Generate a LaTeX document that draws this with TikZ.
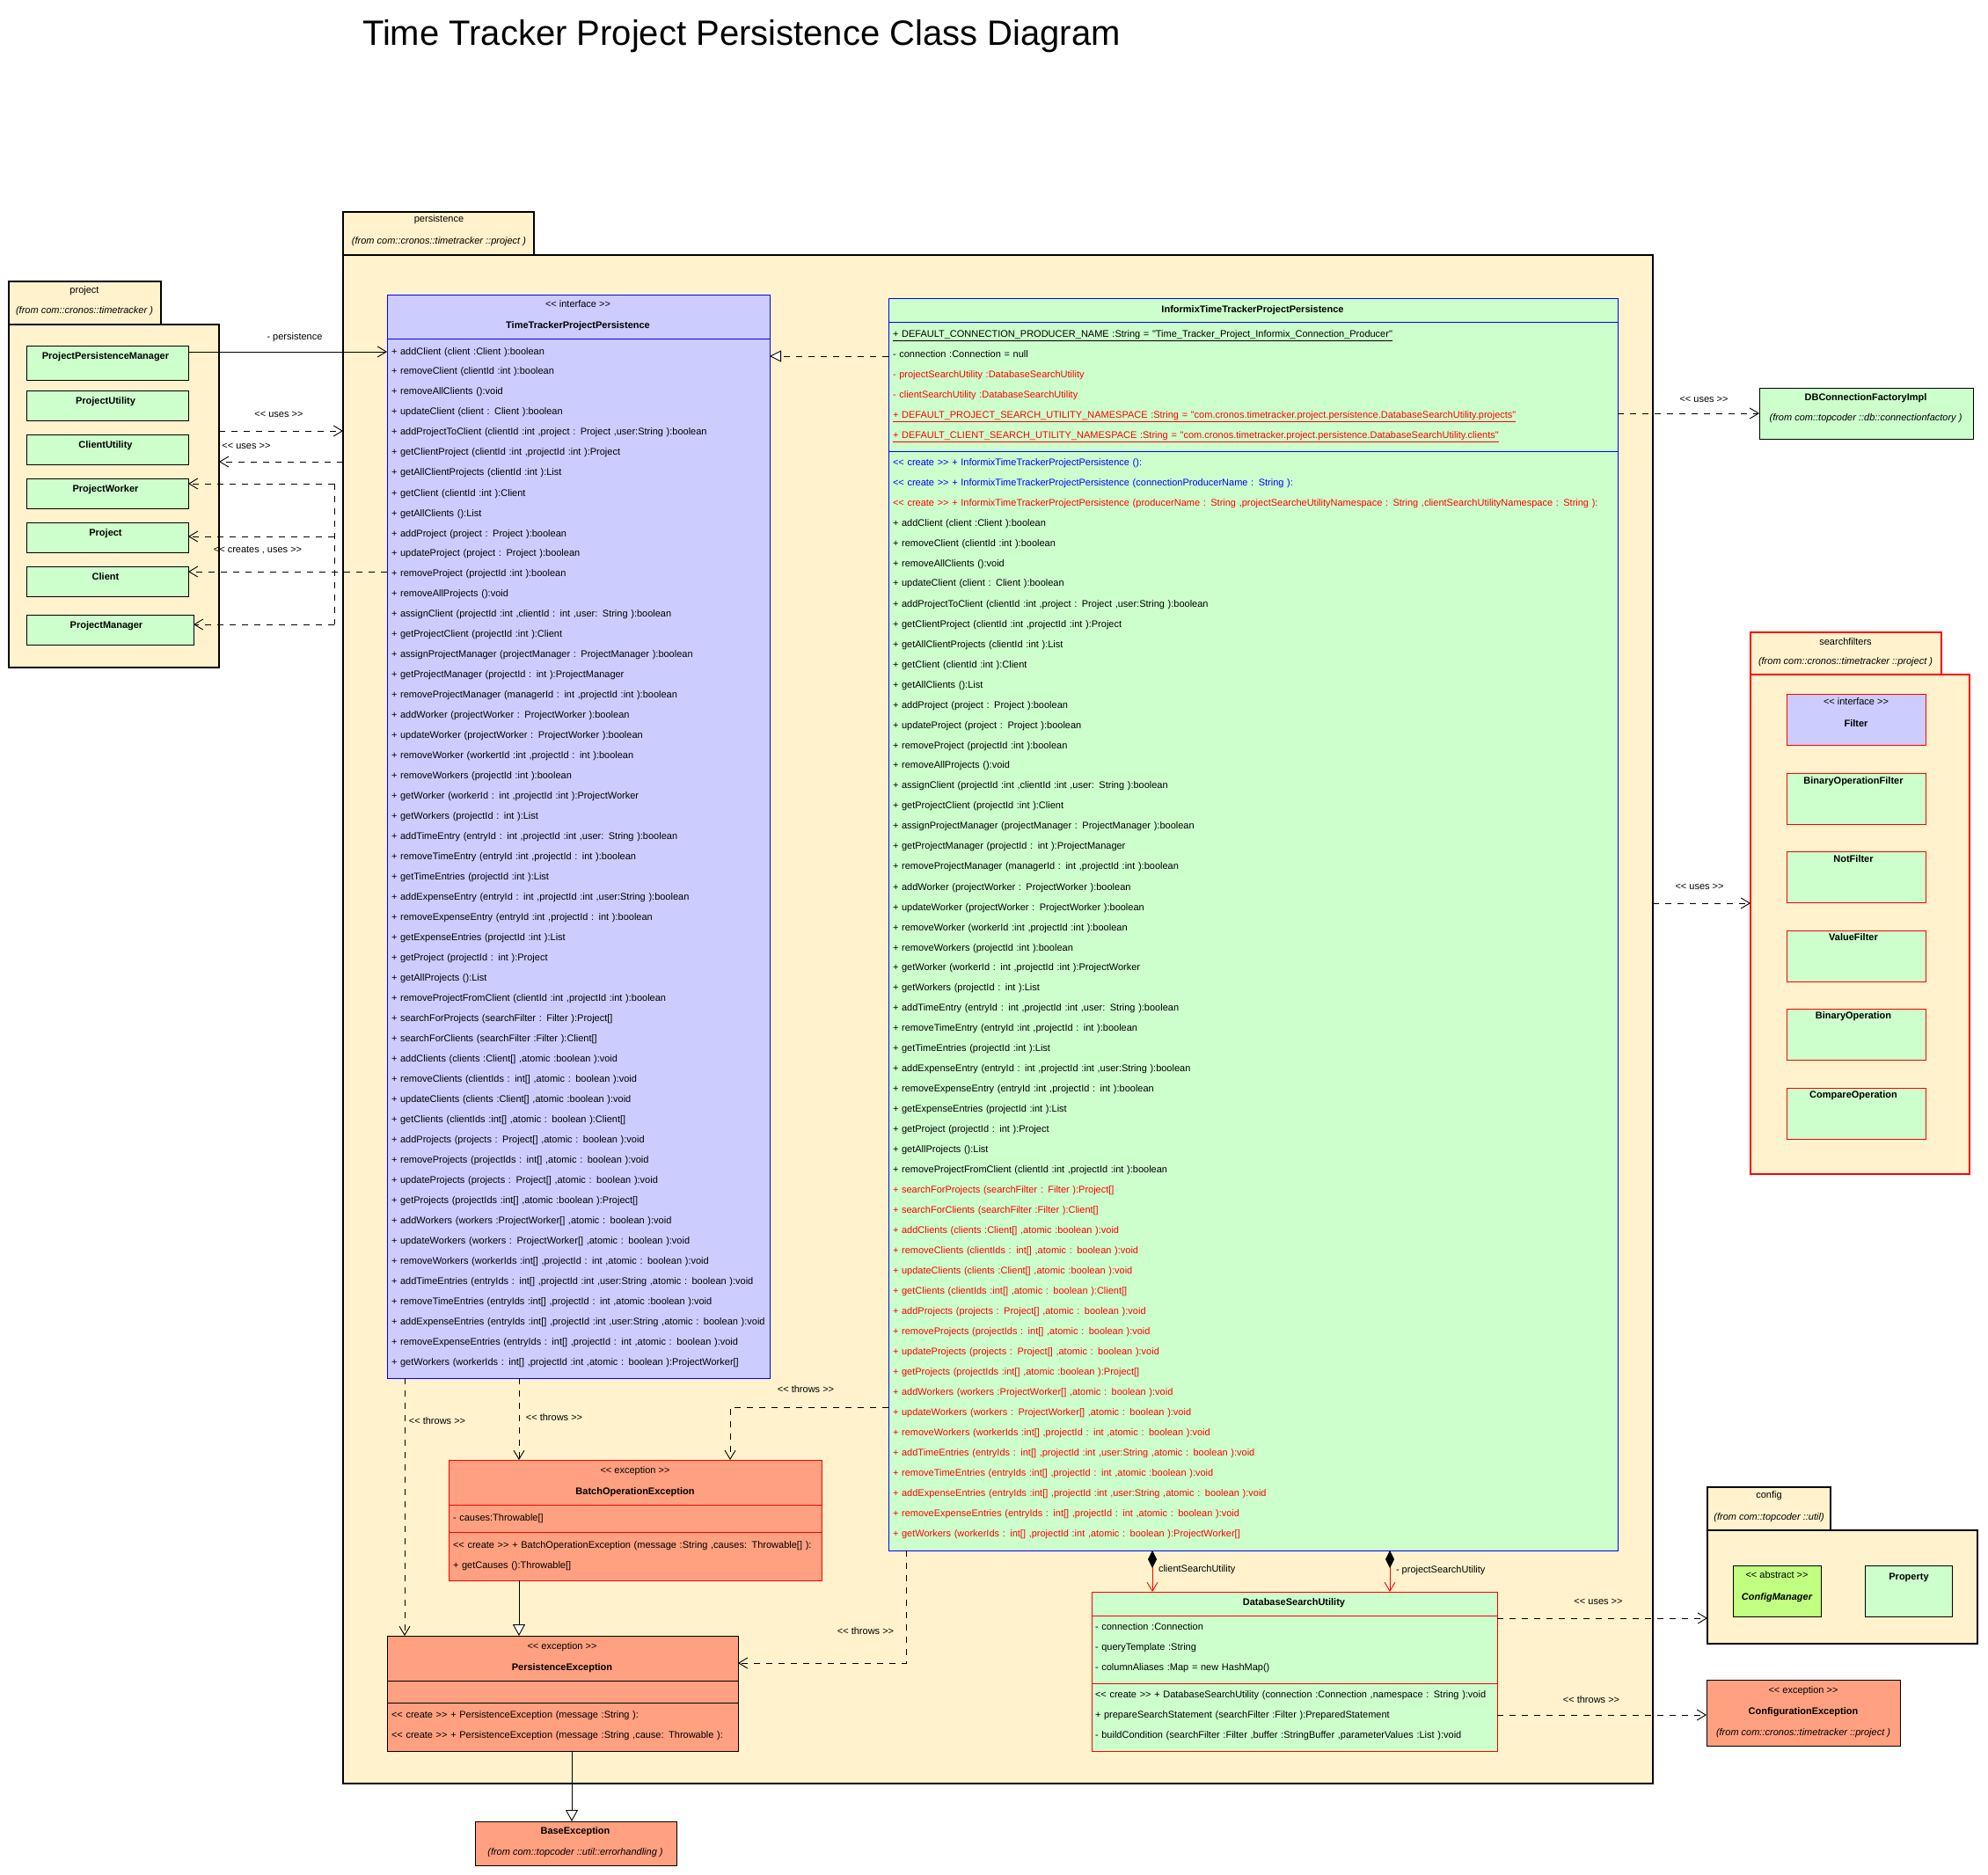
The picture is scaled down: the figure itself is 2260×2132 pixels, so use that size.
\documentclass[tikz,border=0pt]{standalone}
\usepackage{fontspec}
\newfontfamily\uf{Liberation Sans}
\usetikzlibrary{arrows.meta}
\definecolor{pkgfill}{RGB}{255,242,204}
\definecolor{clsgreen}{RGB}{204,255,204}
\definecolor{ifcblue}{RGB}{204,204,255}
\definecolor{excfill}{RGB}{255,160,128}
\definecolor{absfill}{RGB}{192,255,128}
\definecolor{umlred}{RGB}{255,0,0}
\definecolor{umlblue}{RGB}{0,0,255}
\tikzset{
  every node/.style={inner sep=0pt, outer sep=0pt, font=\uf\fontsize{11}{23}\selectfont},
  umlbox/.style={draw, line width=1pt, anchor=north west, rectangle},
  pkgbox/.style={umlbox, fill=pkgfill, line width=1.2pt},
  clsbox/.style={umlbox, fill=clsgreen},
  txt/.style={anchor=base},
  rowtxt/.style={anchor=base west, align=left, text width=#1},
  bname/.style={anchor=base, font=\uf\bfseries\fontsize{11}{23}\selectfont},
  fromtxt/.style={anchor=base, font=\uf\itshape\fontsize{11}{23}\selectfont},
  dashline/.style={line width=0.9pt, dash pattern=on 7pt off 7pt},
  depline/.style={dashline, -{Straight Barb[length=10pt,width=12pt]}},
  genline/.style={line width=0.9pt, -{Triangle[open,length=13pt,width=14pt,fill=white]}},
  realline/.style={dashline, -{Triangle[open,length=13pt,width=13pt,fill=white]}},
  assocline/.style={line width=0.9pt, -{Straight Barb[length=10pt,width=12pt]}},
  compline/.style={draw=umlred, line width=0.9pt, {Diamond[length=20pt,width=10pt,color=black,fill=black]}-{Straight Barb[length=10pt,width=12pt]}},
}
\begin{document}
\begin{tikzpicture}[x=1pt,y=-1pt]
\useasboundingbox (0,0) rectangle (2260,2132);
\fill[white] (0,0) rectangle (2260,2132);

\node[anchor=base, font=\uf\fontsize{40}{48}\selectfont] (title) at (843,52) {Time Tracker Project Persistence Class Diagram};

% ---------------- project package
\node[pkgbox, minimum width=173pt, minimum height=49pt] (projtab) at (10,320) {};
\node[pkgbox, minimum width=239pt, minimum height=390pt] (projbody) at (10,369) {};
\node[txt] (projtabname) at (96,334) {project};
\node[fromtxt] (projtabfrom) at (96,357) {(from com::cronos::timetracker )};

\node[clsbox, minimum width=184pt, minimum height=39pt] (ppm) at (30,394) {};
\node[clsbox, minimum width=184pt, minimum height=34pt] (pu) at (30,444) {};
\node[clsbox, minimum width=184pt, minimum height=34pt] (cu) at (30,494) {};
\node[clsbox, minimum width=184pt, minimum height=34pt] (pw) at (30,544) {};
\node[clsbox, minimum width=184pt, minimum height=34pt] (pr) at (30,594) {};
\node[clsbox, minimum width=184pt, minimum height=34pt] (cl) at (30,644) {};
\node[clsbox, minimum width=190pt, minimum height=34pt] (pm) at (30,699) {};
\node[bname] (ppmname) at (120,409) {ProjectPersistenceManager};
\node[bname] (puname) at (120,459) {ProjectUtility};
\node[bname] (cuname) at (120,509) {ClientUtility};
\node[bname] (pwname) at (120,559) {ProjectWorker};
\node[bname] (prname) at (120,609) {Project};
\node[bname] (clname) at (120,659) {Client};
\node[bname] (pmname) at (121,714) {ProjectManager};

% ---------------- persistence package
\node[pkgbox, minimum width=217pt, minimum height=49pt] (perstab) at (390,241) {};
\node[pkgbox, minimum width=1489pt, minimum height=1738pt] (persbody) at (390,290) {};
\node[txt] (perstabname) at (499,253) {persistence};
\node[fromtxt] (perstabfrom) at (499,278) {(from com::cronos::timetracker ::project )};

% interface
\node[umlbox, draw=umlblue, fill=ifcblue, minimum width=435pt, minimum height=1231pt] (ifc) at (440,336) {};
\draw[umlblue, line width=1pt] ([yshift=-50pt]ifc.north west) -- ([yshift=-50pt]ifc.north east);
\node[txt] (ifcst) at (657,350) {<< interface >>};
\node[bname] (ifcname) at (657,374) {TimeTrackerProjectPersistence};
\node[rowtxt=445pt] (ifcops) at (445,403) {%
+ addClient (client :Client ):boolean\\
+ removeClient (clientId :int ):boolean\\
+ removeAllClients ():void\\
+ updateClient (client : Client ):boolean\\
+ addProjectToClient (clientId :int ,project : Project ,user:String ):boolean\\
+ getClientProject (clientId :int ,projectId :int ):Project\\
+ getAllClientProjects (clientId :int ):List\\
+ getClient (clientId :int ):Client\\
+ getAllClients ():List\\
+ addProject (project : Project ):boolean\\
+ updateProject (project : Project ):boolean\\
+ removeProject (projectId :int ):boolean\\
+ removeAllProjects ():void\\
+ assignClient (projectId :int ,clientId : int ,user: String ):boolean\\
+ getProjectClient (projectId :int ):Client\\
+ assignProjectManager (projectManager : ProjectManager ):boolean\\
+ getProjectManager (projectId : int ):ProjectManager\\
+ removeProjectManager (managerId : int ,projectId :int ):boolean\\
+ addWorker (projectWorker : ProjectWorker ):boolean\\
+ updateWorker (projectWorker : ProjectWorker ):boolean\\
+ removeWorker (workertId :int ,projectId : int ):boolean\\
+ removeWorkers (projectId :int ):boolean\\
+ getWorker (workerId : int ,projectId :int ):ProjectWorker\\
+ getWorkers (projectId : int ):List\\
+ addTimeEntry (entryId : int ,projectId :int ,user: String ):boolean\\
+ removeTimeEntry (entryId :int ,projectId : int ):boolean\\
+ getTimeEntries (projectId :int ):List\\
+ addExpenseEntry (entryId : int ,projectId :int ,user:String ):boolean\\
+ removeExpenseEntry (entryId :int ,projectId : int ):boolean\\
+ getExpenseEntries (projectId :int ):List\\
+ getProject (projectId : int ):Project\\
+ getAllProjects ():List\\
+ removeProjectFromClient (clientId :int ,projectId :int ):boolean\\
+ searchForProjects (searchFilter : Filter ):Project[]\\
+ searchForClients (searchFilter :Filter ):Client[]\\
+ addClients (clients :Client[] ,atomic :boolean ):void\\
+ removeClients (clientIds : int[] ,atomic : boolean ):void\\
+ updateClients (clients :Client[] ,atomic :boolean ):void\\
+ getClients (clientIds :int[] ,atomic : boolean ):Client[]\\
+ addProjects (projects : Project[] ,atomic : boolean ):void\\
+ removeProjects (projectIds : int[] ,atomic : boolean ):void\\
+ updateProjects (projects : Project[] ,atomic : boolean ):void\\
+ getProjects (projectIds :int[] ,atomic :boolean ):Project[]\\
+ addWorkers (workers :ProjectWorker[] ,atomic : boolean ):void\\
+ updateWorkers (workers : ProjectWorker[] ,atomic : boolean ):void\\
+ removeWorkers (workerIds :int[] ,projectId : int ,atomic : boolean ):void\\
+ addTimeEntries (entryIds : int[] ,projectId :int ,user:String ,atomic : boolean ):void\\
+ removeTimeEntries (entryIds :int[] ,projectId : int ,atomic :boolean ):void\\
+ addExpenseEntries (entryIds :int[] ,projectId :int ,user:String ,atomic : boolean ):void\\
+ removeExpenseEntries (entryIds : int[] ,projectId : int ,atomic : boolean ):void\\
+ getWorkers (workerIds : int[] ,projectId :int ,atomic : boolean ):ProjectWorker[]};

% Informix class
\node[umlbox, draw=umlblue, fill=clsgreen, minimum width=829pt, minimum height=1423pt] (informix) at (1010,340) {};
\draw[umlblue, line width=1pt] ([yshift=-27pt]informix.north west) -- ([yshift=-27pt]informix.north east);
\draw[umlblue, line width=1pt] ([yshift=-173pt]informix.north west) -- ([yshift=-173pt]informix.north east);
\node[bname] (infname) at (1424,356) {InformixTimeTrackerProjectPersistence};
\node[rowtxt=850pt] (infattr) at (1015,384) {%
\underline{+ DEFAULT\_CONNECTION\_PRODUCER\_NAME :String = "Time\_Tracker\_Project\_Informix\_Connection\_Producer"}\\
- connection :Connection = null\\
\textcolor{umlred}{- projectSearchUtility :DatabaseSearchUtility}\\
\textcolor{umlred}{- clientSearchUtility :DatabaseSearchUtility}\\
\textcolor{umlred}{\underline{+ DEFAULT\_PROJECT\_SEARCH\_UTILITY\_NAMESPACE :String = "com.cronos.timetracker.project.persistence.DatabaseSearchUtility.projects"}}\\
\textcolor{umlred}{\underline{+ DEFAULT\_CLIENT\_SEARCH\_UTILITY\_NAMESPACE :String = "com.cronos.timetracker.project.persistence.DatabaseSearchUtility.clients"}}};
\node[rowtxt=850pt] (infops) at (1015,529) {%
\textcolor{umlblue}{<< create >> + InformixTimeTrackerProjectPersistence ():}\\
\textcolor{umlblue}{<< create >> + InformixTimeTrackerProjectPersistence (connectionProducerName : String ):}\\
\textcolor{umlred}{<< create >> + InformixTimeTrackerProjectPersistence (producerName : String ,projectSearcheUtilityNamespace : String ,clientSearchUtilityNamespace : String ):}\\
+ addClient (client :Client ):boolean\\
+ removeClient (clientId :int ):boolean\\
+ removeAllClients ():void\\
+ updateClient (client : Client ):boolean\\
+ addProjectToClient (clientId :int ,project : Project ,user:String ):boolean\\
+ getClientProject (clientId :int ,projectId :int ):Project\\
+ getAllClientProjects (clientId :int ):List\\
+ getClient (clientId :int ):Client\\
+ getAllClients ():List\\
+ addProject (project : Project ):boolean\\
+ updateProject (project : Project ):boolean\\
+ removeProject (projectId :int ):boolean\\
+ removeAllProjects ():void\\
+ assignClient (projectId :int ,clientId :int ,user: String ):boolean\\
+ getProjectClient (projectId :int ):Client\\
+ assignProjectManager (projectManager : ProjectManager ):boolean\\
+ getProjectManager (projectId : int ):ProjectManager\\
+ removeProjectManager (managerId : int ,projectId :int ):boolean\\
+ addWorker (projectWorker : ProjectWorker ):boolean\\
+ updateWorker (projectWorker : ProjectWorker ):boolean\\
+ removeWorker (workerId :int ,projectId :int ):boolean\\
+ removeWorkers (projectId :int ):boolean\\
+ getWorker (workerId : int ,projectId :int ):ProjectWorker\\
+ getWorkers (projectId : int ):List\\
+ addTimeEntry (entryId : int ,projectId :int ,user: String ):boolean\\
+ removeTimeEntry (entryId :int ,projectId : int ):boolean\\
+ getTimeEntries (projectId :int ):List\\
+ addExpenseEntry (entryId : int ,projectId :int ,user:String ):boolean\\
+ removeExpenseEntry (entryId :int ,projectId : int ):boolean\\
+ getExpenseEntries (projectId :int ):List\\
+ getProject (projectId : int ):Project\\
+ getAllProjects ():List\\
+ removeProjectFromClient (clientId :int ,projectId :int ):boolean\\
\color{umlred}%
+ searchForProjects (searchFilter : Filter ):Project[]\\
+ searchForClients (searchFilter :Filter ):Client[]\\
+ addClients (clients :Client[] ,atomic :boolean ):void\\
+ removeClients (clientIds : int[] ,atomic : boolean ):void\\
+ updateClients (clients :Client[] ,atomic :boolean ):void\\
+ getClients (clientIds :int[] ,atomic : boolean ):Client[]\\
+ addProjects (projects : Project[] ,atomic : boolean ):void\\
+ removeProjects (projectIds : int[] ,atomic : boolean ):void\\
+ updateProjects (projects : Project[] ,atomic : boolean ):void\\
+ getProjects (projectIds :int[] ,atomic :boolean ):Project[]\\
+ addWorkers (workers :ProjectWorker[] ,atomic : boolean ):void\\
+ updateWorkers (workers : ProjectWorker[] ,atomic : boolean ):void\\
+ removeWorkers (workerIds :int[] ,projectId : int ,atomic : boolean ):void\\
+ addTimeEntries (entryIds : int[] ,projectId :int ,user:String ,atomic : boolean ):void\\
+ removeTimeEntries (entryIds :int[] ,projectId : int ,atomic :boolean ):void\\
+ addExpenseEntries (entryIds :int[] ,projectId :int ,user:String ,atomic : boolean ):void\\
+ removeExpenseEntries (entryIds : int[] ,projectId : int ,atomic : boolean ):void\\
+ getWorkers (workerIds : int[] ,projectId :int ,atomic : boolean ):ProjectWorker[]};

% BatchOperationException
\node[umlbox, draw=umlred, fill=excfill, minimum width=424pt, minimum height=137pt] (boe) at (510,1660) {};
\draw[umlred, line width=1pt] ([yshift=-51pt]boe.north west) -- ([yshift=-51pt]boe.north east);
\draw[umlred, line width=1pt] ([yshift=-82pt]boe.north west) -- ([yshift=-82pt]boe.north east);
\node[txt] (boest) at (722,1675) {<< exception >>};
\node[bname] (boename) at (722,1699) {BatchOperationException};
\node[rowtxt=440pt] (boeattr) at (515,1729) {- causes:Throwable[]};
\node[rowtxt=440pt] (boeops) at (515,1760) {<< create >> + BatchOperationException (message :String ,causes: Throwable[] ):\\
+ getCauses ():Throwable[]};

% PersistenceException
\node[umlbox, fill=excfill, minimum width=399pt, minimum height=131pt] (pe) at (440,1860) {};
\draw[line width=1pt] ([yshift=-51pt]pe.north west) -- ([yshift=-51pt]pe.north east);
\draw[line width=1pt] ([yshift=-76pt]pe.north west) -- ([yshift=-76pt]pe.north east);
\node[txt] (pest) at (639,1875) {<< exception >>};
\node[bname] (pename) at (639,1899) {PersistenceException};
\node[rowtxt=420pt] (peops) at (445,1953) {<< create >> + PersistenceException (message :String ):\\
<< create >> + PersistenceException (message :String ,cause: Throwable ):};

% BaseException
\node[umlbox, fill=excfill, minimum width=229pt, minimum height=50pt] (base) at (540,2071) {};
\node[bname] (basename) at (654,2085) {BaseException};
\node[fromtxt] (basefrom) at (654,2109) {(from com::topcoder ::util::errorhandling )};

% DatabaseSearchUtility
\node[umlbox, draw=umlred, fill=clsgreen, minimum width=461pt, minimum height=181pt] (dsu) at (1241,1810) {};
\draw[umlred, line width=1pt] ([yshift=-27pt]dsu.north west) -- ([yshift=-27pt]dsu.north east);
\draw[umlred, line width=1pt] ([yshift=-104pt]dsu.north west) -- ([yshift=-104pt]dsu.north east);
\node[bname] (dsuname) at (1471,1825) {DatabaseSearchUtility};
\node[rowtxt=480pt] (dsuattr) at (1245,1853) {- connection :Connection\\
- queryTemplate :String\\
- columnAliases :Map = new HashMap()};
\node[rowtxt=480pt] (dsuops) at (1245,1930) {<< create >> + DatabaseSearchUtility (connection :Connection ,namespace : String ):void\\
+ prepareSearchStatement (searchFilter :Filter ):PreparedStatement\\
- buildCondition (searchFilter :Filter ,buffer :StringBuffer ,parameterValues :List ):void};

% ---------------- right side
\node[clsbox, minimum width=243pt, minimum height=58pt] (dbc) at (2000,441) {};
\node[bname] (dbcname) at (2121,455) {DBConnectionFactoryImpl};
\node[fromtxt] (dbcfrom) at (2121,478) {(from com::topcoder ::db::connectionfactory )};

\node[pkgbox, draw=umlred, minimum width=217pt, minimum height=48pt] (sftab) at (1990,719) {};
\node[pkgbox, draw=umlred, minimum width=249pt, minimum height=568pt] (sfbody) at (1990,767) {};
\node[txt] (sftabname) at (2098,733) {searchfilters};
\node[fromtxt] (sftabfrom) at (2098,755) {(from com::cronos::timetracker ::project )};
\node[umlbox, draw=umlred, fill=ifcblue, minimum width=158pt, minimum height=58pt] (filter) at (2031,789) {};
\node[txt] (filterst) at (2110,801) {<< interface >>};
\node[bname] (filtername) at (2110,826) {Filter};
\node[clsbox, draw=umlred, minimum width=158pt, minimum height=58pt] (bof) at (2031,879) {};
\node[clsbox, draw=umlred, minimum width=158pt, minimum height=58pt] (nf) at (2031,968) {};
\node[clsbox, draw=umlred, minimum width=158pt, minimum height=58pt] (vf) at (2031,1058) {};
\node[clsbox, draw=umlred, minimum width=158pt, minimum height=58pt] (bo) at (2031,1147) {};
\node[clsbox, draw=umlred, minimum width=158pt, minimum height=58pt] (co) at (2031,1237) {};
\node[bname] (bofname) at (2107,891) {BinaryOperationFilter};
\node[bname] (nfname) at (2107,980) {NotFilter};
\node[bname] (vfname) at (2107,1069) {ValueFilter};
\node[bname] (boname) at (2107,1158) {BinaryOperation};
\node[bname] (coname) at (2107,1248) {CompareOperation};

\node[pkgbox, minimum width=140pt, minimum height=49pt] (cfgtab) at (1941,1691) {};
\node[pkgbox, minimum width=307pt, minimum height=129pt] (cfgbody) at (1941,1740) {};
\node[txt] (cfgtabname) at (2011,1703) {config};
\node[fromtxt] (cfgtabfrom) at (2011,1728) {(from com::topcoder ::util)};
\node[umlbox, fill=absfill, minimum width=100pt, minimum height=58pt] (cm) at (1970,1780) {};
\node[txt] (cmst) at (2020,1794) {<< abstract >>};
\node[anchor=base, font=\uf\bfseries\itshape\fontsize{11}{23}\selectfont] (cmname) at (2020,1819) {ConfigManager};
\node[clsbox, minimum width=99pt, minimum height=58pt] (prop) at (2120,1780) {};
\node[bname] (propname) at (2170,1796) {Property};

\node[umlbox, fill=excfill, minimum width=220pt, minimum height=75pt] (cfgexc) at (1940,1910) {};
\node[txt] (cfgexcst) at (2050,1925) {<< exception >>};
\node[bname] (cfgexcname) at (2050,1949) {ConfigurationException};
\node[fromtxt] (cfgexcfrom) at (2050,1973) {(from com::cronos::timetracker ::project )};

% ---------------- connectors
% persistence association
\coordinate (a1) at ([yshift=-6pt]ppm.north east);
\draw[assocline] (a1) -- (a1 -| ifc.west);
\node[txt] (a1lab) at (335,387) {- persistence};

% uses between packages
\coordinate (u1) at ([yshift=-121pt]projbody.north east);
\draw[depline] (u1) -- (u1 -| persbody.west);
\node[txt] (u1lab) at (317,474) {<< uses >>};
\coordinate (u2) at ([yshift=-235pt]persbody.north west);
\draw[depline] (u2) -- (u2 -| projbody.east);
\node[txt] (u2lab) at (280,510) {<< uses >>};

% creates, uses
\coordinate (pwA) at ([yshift=-6pt]pw.north east);
\coordinate (prA) at ([yshift=-16pt]pr.north east);
\coordinate (clA) at ([yshift=-6pt]cl.north east);
\coordinate (pmA) at ([yshift=-11pt]pm.north east);
\coordinate (jx) at ([xshift=-60pt]ifc.west);
\draw[depline] (ifc.west |- clA) -- (clA);
\draw[dashline] (jx |- pwA) -- (jx |- pmA);
\draw[depline] (jx |- pwA) -- (pwA);
\draw[depline] (jx |- prA) -- (prA);
\draw[depline] (jx |- pmA) -- (pmA);
\node[txt] (cuslab) at (293,628) {<< creates , uses >>};

% realization
\coordinate (r1) at ([yshift=-65pt]informix.north west);
\draw[realline] (r1) -- (r1 -| ifc.east);

% uses to DB connection factory
\coordinate (u3) at ([yshift=-130pt]informix.north east);
\draw[depline] (u3) -- (u3 -| dbc.west);
\node[txt] (u3lab) at (1937,457) {<< uses >>};

% uses to searchfilters
\coordinate (u4) at ([yshift=-737pt]persbody.north east);
\draw[depline] (u4) -- (u4 -| sfbody.west);
\node[txt] (u4lab) at (1932,1011) {<< uses >>};

% DSU to config
\coordinate (u5) at ([yshift=-30pt]dsu.north east);
\draw[depline] (u5) -- (u5 -| cfgbody.west);
\node[txt] (u5lab) at (1817,1824) {<< uses >>};
\coordinate (t5) at ([yshift=-140pt]dsu.north east);
\draw[depline] (t5) -- (t5 -| cfgexc.west);
\node[txt] (t5lab) at (1809,1936) {<< throws >>};

% compositions
\coordinate (c1) at ([xshift=300pt]informix.south west);
\draw[compline] (c1) -- (c1 |- dsu.north);
\node[anchor=base west] (c1lab) at (1317,1787) {clientSearchUtility};
\coordinate (c2) at ([xshift=570pt]informix.south west);
\draw[compline] (c2) -- (c2 |- dsu.north);
\node[anchor=base west] (c2lab) at (1587,1788) {- projectSearchUtility};

% throws
\coordinate (t1) at ([xshift=20pt]ifc.south west);
\draw[depline] (t1) -- (t1 |- pe.north);
\node[txt] (t1lab) at (497,1619) {<< throws >>};
\coordinate (t2) at ([xshift=150pt]ifc.south west);
\draw[depline] (t2) -- (t2 |- boe.north);
\node[txt] (t2lab) at (630,1615) {<< throws >>};
\coordinate (t3) at ([yshift=-1260pt]informix.north west);
\coordinate (t3b) at ([xshift=320pt]boe.north west);
\draw[depline] (t3) -| (t3b);
\node[txt] (t3lab) at (916,1583) {<< throws >>};
\coordinate (t4) at ([xshift=20pt]informix.south west);
\coordinate (t4b) at ([yshift=-31pt]pe.north east);
\draw[depline] (t4) |- (t4b);
\node[txt] (t4lab) at (984,1858) {<< throws >>};

% generalizations
\coordinate (g1) at ([xshift=80pt]boe.south west);
\draw[genline] (g1) -- (g1 |- pe.north);
\coordinate (g2) at ([xshift=210pt]pe.south west);
\draw[genline] (g2) -- (g2 |- base.north);
\end{tikzpicture}
\end{document}
